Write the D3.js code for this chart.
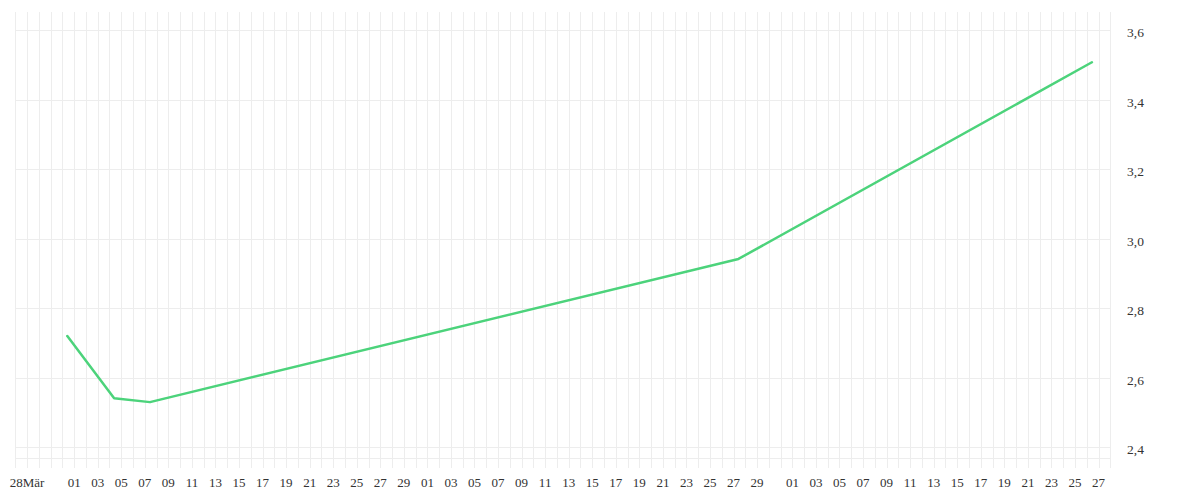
<!DOCTYPE html>
<html>
<head>
<meta charset="utf-8">
<script src="https://cdn.jsdelivr.net/npm/d3@7"></script>
<style>
  html, body { margin: 0; padding: 0; background: #fff; }
  svg { display: block; }
</style>
</head>
<body>
<svg id="chart" width="1200" height="500"></svg>
<script>
// ---- data ----
const pointDates = ["2024-03-31T10:00Z", "2024-04-04T09:30Z", "2024-04-07T10:30Z", "2024-05-27T10:00Z", "2024-06-26T10:30Z"];
const pointValues = [2.72, 2.541, 2.53, 2.942, 3.508];

const xTickDates = [
  "2024-03-28",
  "2024-04-01","2024-04-03","2024-04-05","2024-04-07","2024-04-09","2024-04-11","2024-04-13","2024-04-15",
  "2024-04-17","2024-04-19","2024-04-21","2024-04-23","2024-04-25","2024-04-27","2024-04-29",
  "2024-05-01","2024-05-03","2024-05-05","2024-05-07","2024-05-09","2024-05-11","2024-05-13","2024-05-15",
  "2024-05-17","2024-05-19","2024-05-21","2024-05-23","2024-05-25","2024-05-27","2024-05-29",
  "2024-06-01","2024-06-03","2024-06-05","2024-06-07","2024-06-09","2024-06-11","2024-06-13","2024-06-15",
  "2024-06-17","2024-06-19","2024-06-21","2024-06-23","2024-06-25","2024-06-27"
];
const xTickLabels = [
  "28Mär",
  "01","03","05","07","09","11","13","15","17","19","21","23","25","27","29",
  "01","03","05","07","09","11","13","15","17","19","21","23","25","27","29",
  "01","03","05","07","09","11","13","15","17","19","21","23","25","27"
];
const yTickValues = [2.4, 2.6, 2.8, 3.0, 3.2, 3.4, 3.6];
const yTickLabels = ["2,4", "2,6", "2,8", "3,0", "3,2", "3,4", "3,6"];
const xDomain = ["2024-03-27", "2024-06-28"];

// ---- layout ----
const FONT = "'Liberation Serif', 'Times New Roman', Times, 'DejaVu Serif', serif";
const plot = { left: 15.3, right: 1110.3, top: 12.3, bottom: 468.3 };
const svg = d3.select("#chart");

const x = d3.scaleUtc()
  .domain(xDomain.map(d => new Date(d + "T00:00Z")))
  .range([plot.left, plot.right]);

const y = d3.scaleLinear().domain([2.4, 3.6]).range([447.3, 30.3]);

// grid
const grid = svg.append("g").attr("stroke", "#ededed").attr("stroke-width", 1).attr("shape-rendering", "crispEdges");
const days = d3.utcDay.range(x.domain()[0], d3.utcDay.offset(x.domain()[1], 1));
grid.selectAll("line.v").data(days).join("line")
  .attr("class", "v")
  .attr("x1", d => Math.round(x(d)) + 0.5).attr("x2", d => Math.round(x(d)) + 0.5)
  .attr("y1", plot.top).attr("y2", plot.bottom);
grid.selectAll("line.h").data(yTickValues).join("line")
  .attr("class", "h")
  .attr("x1", plot.left).attr("x2", plot.right)
  .attr("y1", d => Math.round(y(d)) + 0.5).attr("y2", d => Math.round(y(d)) + 0.5);
grid.append("line")
  .attr("x1", plot.left).attr("x2", plot.right)
  .attr("y1", plot.bottom - 10 + 0.5).attr("y2", plot.bottom - 10 + 0.5);

// x labels
svg.append("g").selectAll("text").data(xTickDates).join("text")
  .attr("x", d => x(new Date(d + "T00:00Z")))
  .attr("y", 487)
  .attr("text-anchor", "middle")
  .attr("font-family", FONT)
  .attr("font-size", 13)
  .attr("fill", "#333")
  .text((d, i) => xTickLabels[i]);

// y labels
svg.append("g").selectAll("text").data(yTickValues).join("text")
  .attr("x", 1127)
  .attr("y", d => y(d) + 7)
  .attr("text-anchor", "start")
  .attr("font-family", FONT)
  .attr("font-size", 13.5)
  .attr("fill", "#333")
  .text((d, i) => yTickLabels[i]);

// line
const pts = pointDates.map((d, i) => [new Date(d), pointValues[i]]);
svg.append("path")
  .datum(pts)
  .attr("fill", "none")
  .attr("stroke", "#4cd37b")
  .attr("stroke-width", 2.5)
  .attr("stroke-linejoin", "round")
  .attr("stroke-linecap", "round")
  .attr("d", d3.line().x(d => x(d[0])).y(d => y(d[1])));
</script>
</body>
</html>
